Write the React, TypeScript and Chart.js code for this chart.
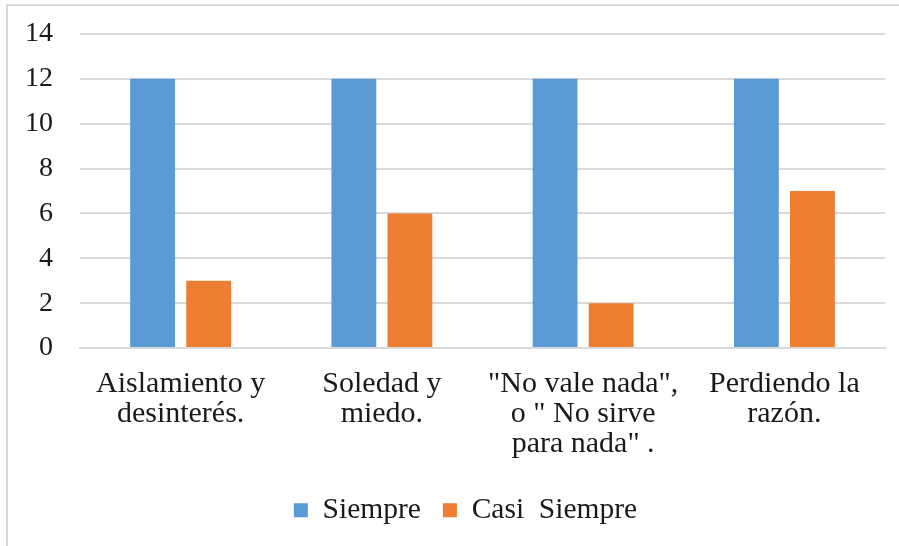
import React, { useEffect, useRef } from "react";
import { Chart, registerables } from "chart.js";

Chart.register(...registerables);

const categories: string[][] = [
  ["Aislamiento y", "desinterés."],
  ["Soledad y", "miedo."],
  ['"No vale nada",', 'o " No sirve', 'para nada" .'],
  ["Perdiendo la", "razón."],
];
const siempre = [12, 12, 12, 12];
const casiSiempre = [3, 6, 2, 7];
const seriesNames = ["Siempre", "Casi  Siempre"];
const yMin = 0;
const yMax = 14;
const yStep = 2;

const FONT = '"Liberation Serif", "Times New Roman", "DejaVu Serif", serif';

const legendShift = {
  id: "legendShift",
  afterLayout(chart: any) {
    const lg = chart.legend;
    if (lg) {
      lg.left += 23;
      lg.right += 23;
    }
  },
};

export default function App() {
  const ref = useRef<HTMLCanvasElement | null>(null);
  useEffect(() => {
    if (!ref.current) return;
    Chart.defaults.font.family = FONT;
    const chart = new Chart(ref.current, {
      type: "bar",
      data: {
        labels: categories,
        datasets: [
          { label: seriesNames[0], data: siempre, backgroundColor: "#5B9BD5" },
          { label: seriesNames[1], data: casiSiempre, backgroundColor: "#ED7D31" },
        ],
      },
      plugins: [legendShift],
      options: {
        animation: false,
        responsive: false,
        maintainAspectRatio: false,
        datasets: { bar: { categoryPercentage: 0.557, barPercentage: 0.8 } },
        layout: { padding: { top: 34, right: 14, bottom: 11, left: 0 } },
        scales: {
          x: {
            grid: { display: false },
            border: { display: true, color: "#d9d9d9", width: 2 },
            ticks: {
              color: "#1a1a1a",
              font: { family: FONT, size: 30, lineHeight: 1.0 },
              padding: 13,
              maxRotation: 0,
              autoSkip: false,
            },
            afterFit: (s: any) => {
              s.height = 125.5;
            },
          },
          y: {
            min: yMin,
            max: yMax,
            grid: { color: "#d9d9d9", lineWidth: 2, drawTicks: false },
            border: { display: false },
            ticks: {
              stepSize: yStep,
              color: "#1a1a1a",
              font: { family: FONT, size: 28 },
              padding: 27,
            },
            afterFit: (s: any) => {
              s.width = 80;
              s.paddingTop = 10;
              s.paddingBottom = 10;
            },
          },
        },
        plugins: {
          tooltip: { enabled: false },
          legend: {
            position: "bottom",
            labels: {
              boxWidth: 14,
              boxHeight: 14,
              padding: 22,
              color: "#1a1a1a",
              font: { family: FONT, size: 29.5 },
            },
          },
        },
      },
    });
    return () => chart.destroy();
  }, []);
  return (
    <div
      style={{
        position: "fixed",
        left: 0,
        top: 0,
        width: 899,
        height: 546,
        overflow: "hidden",
        background: "#fff",
      }}
    >
      <div
        style={{
          position: "absolute",
          left: 6,
          top: 4,
          width: 920,
          height: 580,
          border: "2px solid #d9d9d9",
        }}
      />
      <canvas
        ref={ref}
        width={899}
        height={546}
        style={{ position: "absolute", left: 0, top: 0, width: 899, height: 546 }}
      />
    </div>
  );
}
